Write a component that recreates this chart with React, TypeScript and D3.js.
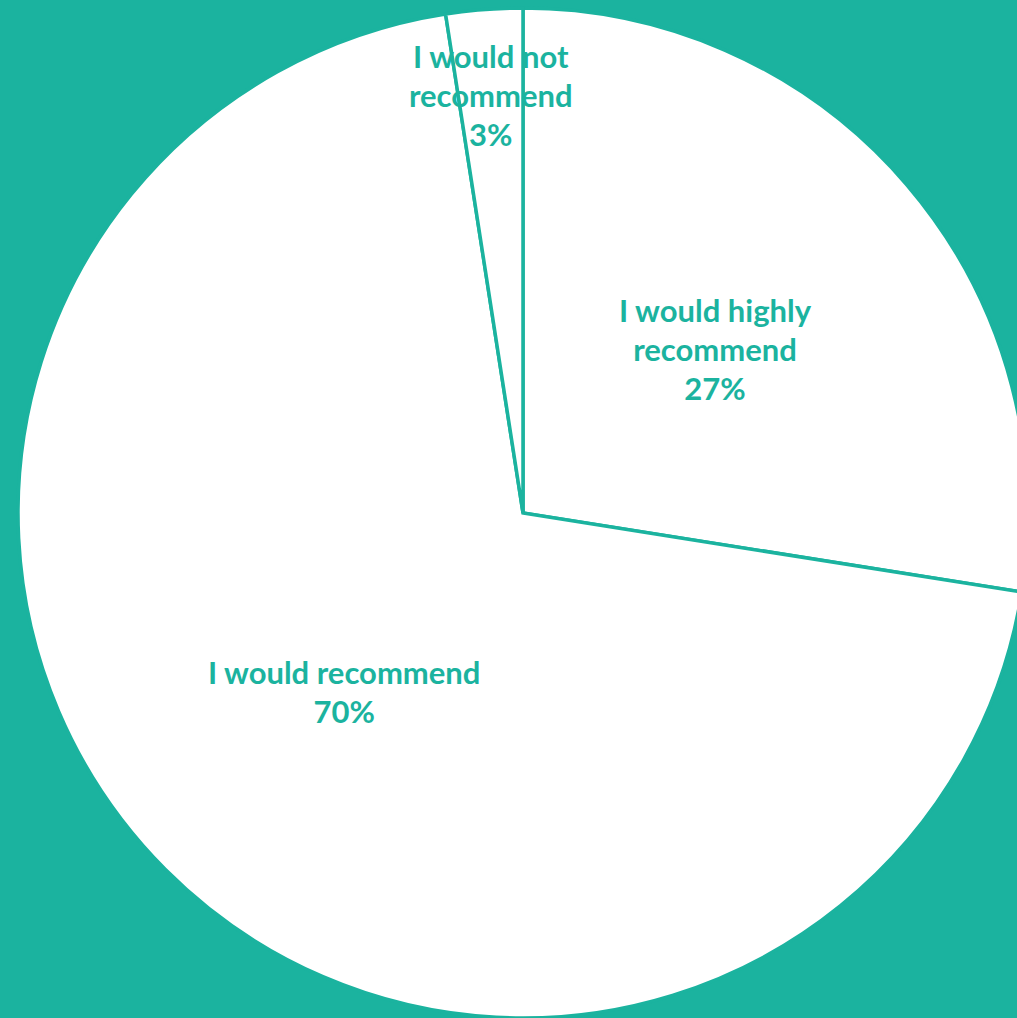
import React from "react";
import * as d3 from "d3";

const categories = ["I would highly recommend", "I would recommend", "I would not recommend"];
const values = [27.5, 70.05, 2.45];
const percentLabels = ["27%", "70%", "3%"];
const labelLines = [["I would highly", "recommend"], ["I would recommend"], ["I would not", "recommend"]];
const labelRadiusFactor = [0.5, 0.5, 0.83];

const W = 1017;
const H = 1018;
const TEAL = "#1bb39f";

export default function App() {
  const cx = 523;
  const cy = 513;
  const r = 505;
  const data = categories.map((c, i) => ({ c, v: values[i], i }));
  const pie = d3.pie<any>().value((d) => d.v).sort(null);
  const arcs = pie(data);
  const arc = d3.arc<any>().innerRadius(0).outerRadius(r);
  const fontSize = 31;
  const lineH = 39;
  return (
    <svg
      width={W}
      height={H}
      style={{ position: "absolute", left: 0, top: 0, display: "block" }}
    >
      <rect x={0} y={0} width={W} height={H} fill={TEAL} />
      <g transform={`translate(${cx},${cy})`}>
        {arcs.map((a, i) => (
          <path key={i} d={arc(a) || ""} fill="#ffffff" stroke={TEAL} strokeWidth={3.5} strokeLinejoin="miter" />
        ))}
        {arcs.map((a, i) => {
          const mid = (a.startAngle + a.endAngle) / 2;
          const lr = r * labelRadiusFactor[i];
          const x = Math.sin(mid) * lr;
          const y = -Math.cos(mid) * lr;
          const lines = [...labelLines[i], percentLabels[i]];
          const y0 = y - ((lines.length - 1) * lineH) / 2;
          return (
            <text
              key={"t" + i}
              textAnchor="middle"
              fontFamily="Lato, 'Open Sans', sans-serif"
              fontWeight="bold"
              fontSize={fontSize}
              fill={TEAL}
            >
              {lines.map((l, k) => (
                <tspan key={k} x={x} y={y0 + k * lineH} dominantBaseline="central">
                  {l}
                </tspan>
              ))}
            </text>
          );
        })}
      </g>
    </svg>
  );
}
